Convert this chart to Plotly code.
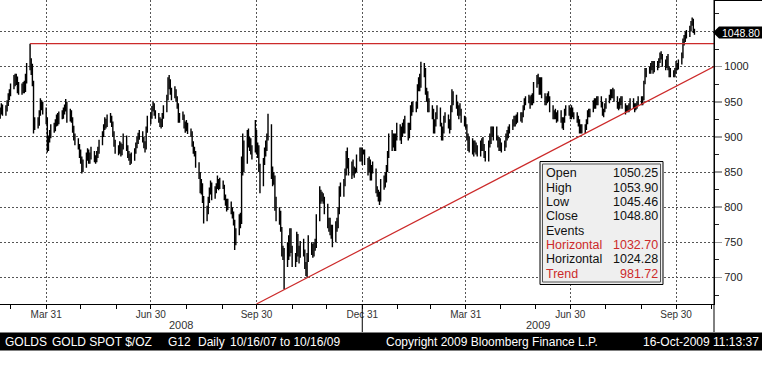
import plotly.graph_objects as go
import pandas as pd

# ---------------- data (daily gold spot bars) ----------------
first_day = "2008-02-20"
last_day = "2009-10-16"

opens = [
    930, 936, 942,
    938, 940, 948, 958, 962,
    972, 978, 984, 980, 968,
    972, 968, 972, 966, 980,
    1005, 1002, 1000, 975, 918,
    922, 920, 935, 948, 945,
    940, 925, 885, 898, 905,
    912, 912, 920, 928, 922,
    930, 932, 936, 940, 948,
    925, 935, 925, 912, 900,
    895, 888, 875, 870, 855,
    860, 872, 876, 866, 872,
    878, 870, 868, 875, 880,
    890, 905, 915, 922, 918,
    926, 928, 920, 905, 890,
    885, 880, 888, 878, 885,
    900, 885, 875, 872, 866,
    870, 880, 888, 895, 900,
    905, 898, 890, 885, 910,
    925, 930, 940, 945, 935,
    930, 925, 922, 918, 930,
    938, 955, 975, 980, 965,
    958, 965, 955, 945, 925,
    928, 930, 918, 912, 918,
    910, 905, 890, 880, 878,
    862, 845, 825, 830, 812,
    790, 795, 810, 822, 830,
    815, 825, 830, 835, 830,
    835, 830, 815, 808, 800,
    805, 795, 790, 780, 750,
    765, 782, 778, 868, 872,
    865, 905, 890, 892, 882,
    880, 905, 880, 885, 855,
    835, 865, 880, 885, 900,
    915, 845, 840, 842, 800,
    785, 790, 770, 735, 738,
    720, 740, 738, 765, 740,
    725, 728, 758, 735, 738,
    745, 738, 718, 710, 728,
    745, 740, 735, 742, 748,
    785, 818, 812, 815, 810,
    800, 775, 780, 765, 770,
    755, 772, 775, 795, 825,
    822, 835, 850, 870, 860,
    850, 860, 848, 852, 854,
    872, 878, 870, 880, 878,
    865, 858, 865, 842, 855,
    852, 825, 820, 815, 810,
    835, 840, 845, 855, 875,
    900, 890, 900, 885, 900,
    915, 900, 905, 912, 918,
    910, 905, 915, 940, 945,
    940, 945, 970, 978, 975,
    1000, 995, 965, 962, 945,
    942, 938, 912, 920, 930,
    940, 918, 900, 910, 925,
    928, 920, 915, 940, 960,
    955, 948, 935, 940, 935,
    925, 920, 915, 900, 885,
    895, 880, 890, 885, 880,
    878, 890, 895, 885, 875,
    868, 890, 895, 910, 905,
    910, 900, 890, 895, 885,
    882, 890, 900, 905, 912,
    915, 920, 925, 920, 928,
    930, 928, 932, 942, 950,
    955, 952, 948, 955, 950,
    975, 982, 980, 965, 980,
    960, 950, 955, 958, 955,
    940, 928, 935, 930, 925,
    935, 922, 915, 925, 935,
    940, 935, 928, 940, 930,
    932, 925, 920, 910, 915,
    912, 915, 920, 935, 932,
    938, 948, 945, 952, 955,
    950, 948, 935, 938, 942,
    952, 955, 962, 958, 965,
    955, 945, 942, 950, 955,
    945, 938, 940, 942, 940,
    952, 945, 940, 945, 948,
    955, 952, 955, 978, 995,
    995, 996, 1000, 1002, 995,
    1005, 1000, 1010, 1015, 1015,
    1005, 1000, 1010, 998, 990,
    992, 990, 993, 1000, 998,
    1005, 1015, 1035, 1040, 1048,
    1045, 1055, 1062, 1065, 1050.25,
]

highs = [
    942, 948, 946,
    945, 952, 962, 968, 976,
    988, 990, 990, 986, 978,
    976, 978, 980, 990, 1005,
    1032.7, 1012, 1004, 980, 928,
    928, 938, 955, 952, 950,
    942, 928, 902, 910, 918,
    920, 925, 932, 934, 936,
    938, 942, 946, 954, 950,
    940, 938, 928, 916, 905,
    898, 890, 882, 872, 868,
    878, 884, 882, 878, 886,
    880, 874, 880, 886, 896,
    908, 918, 928, 926, 932,
    934, 930, 922, 908, 896,
    888, 894, 892, 890, 905,
    902, 888, 880, 876, 878,
    884, 892, 900, 906, 910,
    908, 900, 894, 915, 930,
    935, 944, 950, 948, 938,
    934, 928, 926, 934, 945,
    960, 985, 988, 982, 970,
    972, 968, 958, 948, 934,
    936, 932, 922, 924, 920,
    912, 908, 894, 886, 880,
    864, 850, 840, 834, 816,
    802, 815, 828, 838, 835,
    830, 834, 845, 840, 842,
    838, 832, 818, 812, 812,
    808, 800, 794, 782, 770,
    790, 792, 872, 905, 895,
    910, 912, 900, 898, 888,
    924, 910, 892, 888, 862,
    870, 885, 895, 905, 933,
    918, 858, 850, 845, 815,
    800, 795, 772, 745, 742,
    750, 760, 770, 770, 745,
    735, 765, 762, 745, 752,
    755, 740, 722, 735, 760,
    750, 748, 750, 755, 790,
    830, 825, 822, 820, 815,
    805, 785, 785, 775, 775,
    780, 785, 800, 830, 835,
    840, 855, 880, 885, 870,
    865, 868, 858, 856, 875,
    885, 885, 885, 882, 882,
    870, 872, 868, 860, 865,
    855, 830, 825, 822, 840,
    845, 850, 860, 880, 905,
    910, 905, 905, 905, 920,
    918, 915, 920, 925, 930,
    920, 920, 945, 950, 950,
    950, 975, 985, 990, 1007,
    1005, 998, 970, 965, 955,
    945, 940, 925, 935, 945,
    942, 920, 915, 930, 935,
    932, 925, 945, 968, 965,
    960, 950, 945, 948, 940,
    930, 928, 918, 905, 900,
    898, 895, 895, 892, 888,
    895, 898, 900, 890, 880,
    895, 905, 915, 915, 915,
    915, 902, 900, 898, 892,
    895, 905, 910, 915, 918,
    925, 930, 930, 932, 935,
    935, 935, 945, 955, 958,
    960, 958, 960, 962, 978,
    988, 990, 985, 985, 985,
    962, 958, 962, 965, 958,
    945, 938, 940, 935, 938,
    938, 928, 928, 940, 945,
    945, 942, 945, 942, 935,
    935, 930, 925, 918, 918,
    918, 925, 938, 940, 940,
    952, 955, 955, 958, 958,
    958, 950, 940, 948, 955,
    960, 968, 968, 970, 968,
    958, 950, 955, 958, 958,
    948, 945, 945, 948, 955,
    955, 948, 948, 950, 958,
    958, 958, 980, 998, 998,
    1000, 1005, 1008, 1008, 1008,
    1008, 1012, 1020, 1022, 1018,
    1010, 1015, 1018, 1000, 998,
    995, 998, 1008, 1005, 1010,
    1020, 1040, 1045, 1050, 1052,
    1058, 1065, 1070, 1068, 1053.90,
]

lows = [
    926, 932, 930,
    930, 936, 944, 952, 958,
    968, 972, 974, 962, 960,
    960, 962, 962, 964, 976,
    995, 988, 972, 905, 910,
    912, 916, 930, 938, 932,
    918, 878, 880, 892, 898,
    906, 908, 915, 916, 918,
    925, 926, 932, 936, 920,
    922, 920, 906, 895, 888,
    882, 870, 862, 848, 850,
    856, 866, 862, 862, 868,
    864, 862, 864, 870, 876,
    888, 900, 910, 912, 914,
    920, 914, 900, 886, 876,
    874, 876, 872, 874, 882,
    880, 870, 866, 860, 862,
    866, 876, 884, 890, 896,
    892, 884, 878, 882, 906,
    918, 926, 936, 930, 926,
    920, 914, 912, 914, 926,
    935, 952, 968, 960, 952,
    955, 950, 940, 920, 920,
    924, 912, 906, 908, 904,
    900, 886, 876, 872, 856,
    840, 820, 818, 806, 777,
    780, 790, 806, 818, 810,
    812, 820, 826, 824, 826,
    826, 810, 802, 794, 796,
    790, 784, 774, 739, 746,
    760, 770, 776, 845, 850,
    862, 885, 880, 875, 868,
    878, 875, 870, 850, 820,
    830, 860, 872, 880, 895,
    840, 830, 832, 795, 780,
    775, 765, 730, 725, 683,
    715, 725, 730, 735, 715,
    715, 722, 730, 720, 728,
    730, 712, 702, 700, 722,
    732, 728, 730, 738, 742,
    780, 805, 808, 805, 790,
    770, 765, 760, 755, 743,
    750, 765, 770, 790, 815,
    815, 830, 845, 855, 845,
    840, 845, 842, 848, 850,
    865, 865, 860, 875, 860,
    845, 850, 838, 838, 848,
    820, 815, 808, 803, 808,
    825, 828, 835, 850, 870,
    880, 885, 880, 880, 895,
    895, 890, 900, 905, 905,
    895, 898, 910, 930, 935,
    935, 940, 965, 965, 970,
    985, 960, 950, 935, 935,
    925, 905, 905, 915, 925,
    915, 895, 895, 905, 920,
    912, 905, 910, 935, 945,
    940, 930, 925, 930, 920,
    915, 912, 895, 880, 878,
    875, 872, 878, 875, 872,
    872, 880, 880, 870, 865,
    865, 885, 890, 900, 895,
    895, 885, 880, 880, 878,
    880, 885, 895, 898, 905,
    910, 915, 915, 918, 920,
    922, 920, 928, 938, 945,
    948, 940, 945, 945, 948,
    970, 975, 960, 960, 955,
    945, 945, 948, 950, 935,
    925, 925, 925, 920, 922,
    920, 912, 910, 920, 930,
    930, 925, 925, 928, 925,
    920, 915, 905, 905, 905,
    905, 910, 918, 928, 928,
    935, 940, 940, 945, 945,
    942, 930, 928, 935, 940,
    948, 952, 955, 955, 950,
    940, 938, 940, 945, 940,
    932, 935, 935, 935, 938,
    940, 935, 938, 940, 945,
    945, 945, 952, 975, 985,
    990, 990, 995, 990, 992,
    995, 998, 1005, 1010, 1000,
    995, 998, 995, 985, 985,
    985, 985, 990, 995, 996,
    1003, 1012, 1030, 1035, 1040,
    1042, 1050, 1058, 1048, 1045.46,
]

closes = [
    936, 942, 938,
    940, 948, 958, 962, 972,
    978, 984, 980, 968, 972,
    968, 972, 966, 980, 995,
    1002, 1000, 980, 918, 922,
    920, 935, 948, 945, 940,
    925, 885, 898, 905, 912,
    912, 920, 928, 922, 930,
    932, 936, 940, 948, 925,
    935, 925, 912, 900, 895,
    888, 875, 870, 855, 860,
    872, 876, 866, 872, 878,
    870, 868, 875, 880, 890,
    905, 915, 922, 918, 926,
    928, 920, 905, 890, 885,
    880, 888, 878, 885, 900,
    885, 875, 872, 866, 870,
    880, 888, 895, 900, 905,
    898, 890, 885, 910, 925,
    930, 940, 945, 935, 930,
    925, 922, 918, 930, 938,
    955, 975, 980, 965, 958,
    965, 955, 945, 925, 928,
    930, 918, 912, 918, 910,
    905, 890, 880, 878, 862,
    845, 825, 830, 812, 790,
    795, 810, 822, 830, 815,
    825, 830, 835, 830, 835,
    830, 815, 808, 800, 805,
    795, 790, 780, 750, 765,
    782, 778, 868, 872, 865,
    905, 890, 892, 882, 880,
    905, 880, 885, 855, 835,
    865, 880, 885, 900, 915,
    845, 840, 842, 800, 785,
    790, 770, 735, 738, 720,
    740, 738, 765, 740, 725,
    728, 758, 735, 738, 745,
    738, 718, 710, 728, 745,
    740, 735, 742, 748, 785,
    818, 812, 815, 810, 800,
    775, 780, 765, 770, 755,
    772, 775, 795, 825, 822,
    835, 850, 870, 860, 850,
    860, 848, 852, 854, 872,
    878, 870, 880, 878, 865,
    858, 865, 842, 855, 852,
    825, 820, 815, 810, 835,
    840, 845, 855, 875, 900,
    890, 900, 885, 900, 915,
    900, 905, 912, 918, 910,
    905, 915, 940, 945, 940,
    945, 970, 978, 975, 1000,
    995, 965, 962, 945, 942,
    938, 912, 920, 930, 940,
    918, 900, 910, 925, 928,
    920, 915, 940, 960, 955,
    948, 935, 940, 935, 925,
    920, 915, 900, 885, 895,
    880, 890, 885, 880, 878,
    890, 895, 885, 875, 868,
    890, 895, 910, 905, 910,
    900, 890, 895, 885, 882,
    890, 900, 905, 912, 915,
    920, 925, 920, 928, 930,
    928, 932, 942, 950, 955,
    952, 948, 955, 950, 975,
    982, 980, 965, 980, 960,
    950, 955, 958, 955, 940,
    928, 935, 930, 925, 935,
    922, 915, 925, 935, 940,
    935, 928, 940, 930, 932,
    925, 920, 910, 915, 912,
    915, 920, 935, 932, 938,
    948, 945, 952, 955, 950,
    948, 935, 938, 942, 952,
    955, 962, 958, 965, 955,
    945, 942, 950, 955, 945,
    938, 940, 942, 940, 952,
    945, 940, 945, 948, 955,
    952, 955, 978, 995, 995,
    996, 1000, 1002, 995, 1005,
    1000, 1010, 1015, 1015, 1005,
    1000, 1010, 998, 990, 992,
    990, 993, 1000, 998, 1005,
    1015, 1035, 1040, 1048, 1045,
    1055, 1062, 1065, 1052, 1048.80,
]

# drawn study lines
horiz_dates = ["2008-03-17", "2009-11-02"]
horiz_values = [1032.70, 1032.70]
trend_dates = ["2008-09-30", "2009-11-02"]
trend_values = [662.3, 1000.0]

# axis ticks
quarter_ticks = ["2008-03-31", "2008-06-30", "2008-09-30", "2008-12-31",
                 "2009-03-31", "2009-06-30", "2009-09-30"]
quarter_labels = ["Mar 31", "Jun 30", "Sep 30", "Dec 31", "Mar 31", "Jun 30", "Sep 30"]
month_ticks = ["2008-02-29", "2008-04-30", "2008-05-31", "2008-07-31", "2008-08-31",
               "2008-10-31", "2008-11-30", "2009-01-31", "2009-02-28", "2009-04-30",
               "2009-05-31", "2009-07-31", "2009-08-31", "2009-10-31"]
price_ticks = [700, 750, 800, 850, 900, 950, 1000, 1050]
price_labels = ["700", "750", "800", "850", "900", "950", "1000", ""]
price_minor = [675, 725, 775, 825, 875, 925, 975, 1025, 1075]

info_labels = ["Open", "High", "Low", "Close", "Events", "Horizontal", "Horizontal", "Trend"]
info_values = ["1050.25", "1053.90", "1045.46", "1048.80", "", "1032.70", "1024.28", "981.72"]
info_red = [False, False, False, False, False, True, False, True]
last_price_label = "1048.80"

# ---------------- figure ----------------
dates = pd.bdate_range(first_day, last_day)
n = len(dates)
for name, arr in (("opens", opens), ("highs", highs), ("lows", lows), ("closes", closes)):
    if len(arr) != n:
        raise SystemExit(f"{name} has {len(arr)} values, expected {n}")

W, H = 762, 366
ML, MR, MT, MB = 0, 48, 0, 62
PW, PH = W - ML - MR, H - MT - MB
FONT = "Arial, 'Liberation Sans', sans-serif"
RED = "#cc2a2a"


def px(x):
    return (x - ML) / PW


def py(y):
    return 1 - (y - MT) / PH


fig = go.Figure()
fig.add_trace(go.Ohlc(
    x=dates, open=opens, high=highs, low=lows, close=closes,
    increasing=dict(line=dict(color="#000000", width=1.4)),
    decreasing=dict(line=dict(color="#000000", width=1.4)),
    tickwidth=0.5, hoverinfo="skip", showlegend=False,
))
fig.add_trace(go.Scatter(x=horiz_dates, y=horiz_values, mode="lines",
                         line=dict(color=RED, width=1.2), hoverinfo="skip", showlegend=False))
fig.add_trace(go.Scatter(x=trend_dates, y=trend_values, mode="lines",
                         line=dict(color=RED, width=1.2), hoverinfo="skip", showlegend=False))

shapes = []
annotations = []

# right axis panel borders and year separator
shapes.append(dict(type="line", xref="paper", yref="paper", x0=1, x1=1, y0=1, y1=py(332),
                   line=dict(color="black", width=1)))
shapes.append(dict(type="line", xref="paper", yref="paper", x0=1, x1=px(W), y0=py(0.5), y1=py(0.5),
                   line=dict(color="black", width=1)))
shapes.append(dict(type="line", xref="x", yref="paper", x0="2008-12-31", x1="2008-12-31",
                   y0=0, y1=py(332), line=dict(color="black", width=1)))

# bottom black information bar
shapes.append(dict(type="rect", xref="paper", yref="paper", x0=px(0), x1=px(W),
                   y0=py(350.5), y1=py(332.5), fillcolor="black", line=dict(width=0)))
bar_y = py(341.5)
for txt, x, anchor in (("GOLDS", 3, "left"), ("GOLD SPOT $/OZ", 50, "left"), ("G12", 165.5, "left"),
                       ("Daily", 195.5, "left"), ("10/16/07 to 10/16/09", 228, "left"),
                       ("Copyright 2009 Bloomberg Finance L.P.", 383.5, "left"),
                       ("16-Oct-2009 11:13:37", 761, "right")):
    annotations.append(dict(text=txt, xref="paper", yref="paper", x=px(x), y=bar_y,
                            xanchor=anchor, yanchor="middle", showarrow=False,
                            font=dict(family=FONT, size=12, color="white")))

# year labels
for txt, x in (("2008", 180.5), ("2009", 537.5)):
    annotations.append(dict(text=txt, xref="paper", yref="paper", x=px(x), y=py(325),
                            xanchor="center", yanchor="middle", showarrow=False,
                            font=dict(family=FONT, size=11, color="#333333")))

# last price marker
shapes.append(dict(type="path", xref="paper", yref="paper",
                   path=(f"M {px(713)},{py(32.5)} L {px(719)},{py(26.5)} L {px(W)},{py(26.5)} "
                         f"L {px(W)},{py(38.5)} L {px(719)},{py(38.5)} Z"),
                   fillcolor="black", line=dict(width=0)))
annotations.append(dict(text=last_price_label, xref="paper", yref="paper", x=px(740.5), y=py(32.5),
                        xanchor="center", yanchor="middle", showarrow=False,
                        font=dict(family=FONT, size=10.5, color="white")))

# info box
shapes.append(dict(type="rect", xref="paper", yref="paper", x0=px(540), x1=px(663),
                   y0=py(284.5), y1=py(161.5), fillcolor="#efefef",
                   line=dict(color="black", width=1)))
shapes.append(dict(type="rect", xref="paper", yref="paper", x0=px(542.5), x1=px(660.5),
                   y0=py(282), y1=py(164), fillcolor="rgba(0,0,0,0)",
                   line=dict(color="#555555", width=1)))
for i, (lab, val, red) in enumerate(zip(info_labels, info_values, info_red)):
    yy = py(173.3 + i * 14.35)
    col = RED if red else "#111111"
    annotations.append(dict(text=lab, xref="paper", yref="paper", x=px(543.5), y=yy,
                            xanchor="left", yanchor="middle", showarrow=False,
                            font=dict(family=FONT, size=12.5, color=col)))
    if val:
        annotations.append(dict(text=val, xref="paper", yref="paper", x=px(659.5), y=yy,
                                xanchor="right", yanchor="middle", showarrow=False,
                                font=dict(family=FONT, size=12.5, color=col)))

fig.update_layout(
    width=W, height=H,
    margin=dict(l=ML, r=MR, t=MT, b=MB, pad=0),
    paper_bgcolor="white", plot_bgcolor="white",
    showlegend=False,
    font=dict(family=FONT, size=11, color="#222222"),
    shapes=shapes, annotations=annotations,
    xaxis=dict(
        type="date", range=["2008-02-19 20:00", "2009-11-02 00:00"],
        rangeslider=dict(visible=False),
        tickmode="array", tickvals=quarter_ticks, ticktext=quarter_labels,
        ticks="outside", ticklen=4, tickcolor="black", tickwidth=1,
        ticklabelstandoff=-3,
        tickfont=dict(family=FONT, size=10, color="#333333"),
        showline=True, linecolor="black", linewidth=1,
        showgrid=True, gridcolor="#555555", gridwidth=1, griddash="2px,2px",
        zeroline=False, fixedrange=True,
        minor=dict(tickmode="array", tickvals=month_ticks, ticks="outside", ticklen=4,
                   tickcolor="black", tickwidth=1, showgrid=False),
    ),
    yaxis=dict(
        side="right", range=[662.3, 1094.8],
        tickmode="array", tickvals=price_ticks, ticktext=price_labels,
        ticks="outside", ticklen=7, tickcolor="#999999", tickwidth=1.5,
        tickfont=dict(family=FONT, size=11, color="#222222"),
        showline=True, linecolor="black", linewidth=1,
        showgrid=True, gridcolor="#555555", gridwidth=1, griddash="2px,2px",
        zeroline=False, fixedrange=True,
        minor=dict(tickmode="array", tickvals=price_minor, ticks="outside", ticklen=4,
                   tickcolor="#222222", tickwidth=1, showgrid=False),
    ),
)

fig.write_html("out.html", config={"displayModeBar": False, "staticPlot": True},
               post_script="document.body.style.margin='0';document.body.style.padding='0';")
